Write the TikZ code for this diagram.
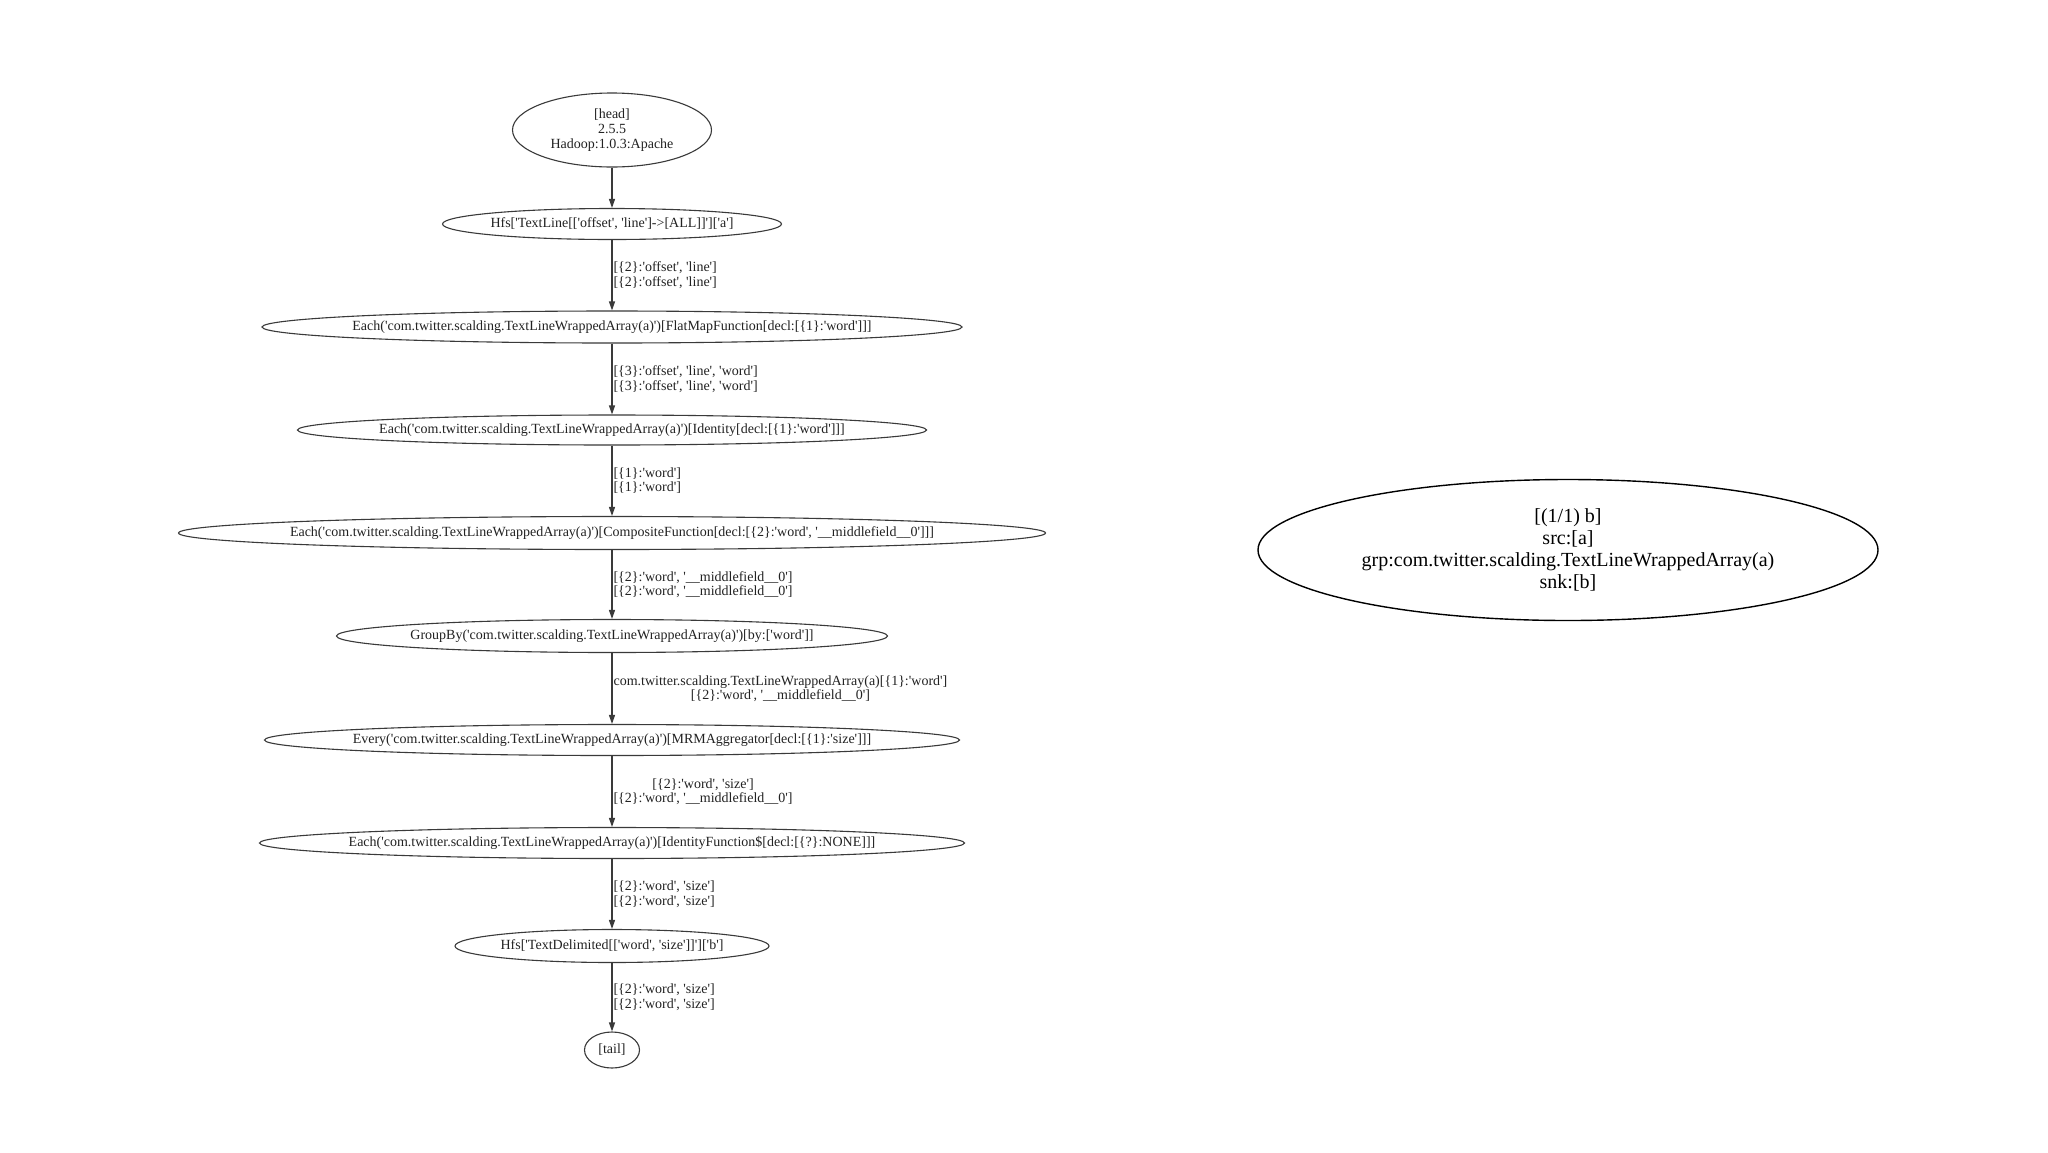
\documentclass[tikz,border=0pt]{standalone}
\usepackage{fontspec}
\setmainfont{Liberation Serif}[Ligatures=TeXOff]
\usetikzlibrary{arrows.meta,positioning,shapes.geometric}
\definecolor{flowline}{HTML}{3A3A3A}
\definecolor{flowtext}{HTML}{222222}

\begin{document}
\begin{tikzpicture}[x=1pt,y=-1pt,
  op/.style={ellipse, draw=flowline, line width=1.1pt, inner xsep=-20pt, inner ysep=0pt,
    font=\fontsize{14}{14.8}\selectfont, text=flowtext, align=center},
  flow/.style={draw=flowline, line width=1.1pt, -{Triangle[length=9pt,width=6pt]}},
  lbl/.style={midway, right, inner sep=1pt, align=center,
    font=\fontsize{14}{14.5}\selectfont, text=flowtext}]
  \useasboundingbox[fill=white] (0,0) rectangle (2048,1152);

  % ======= flow graph (left) =======
  \node[op, minimum width=199, minimum height=74] (head) at (612,130) {[head]\\2.5.5\\Hadoop:1.0.3:Apache};
  \node[op, minimum width=339, minimum height=31] (srcA) at (612,224) {Hfs['TextLine[['offset', 'line']->[ALL]]']['a']};
  \node[op, minimum width=700, minimum height=32] (flatmap) at (612,327) {Each('com.twitter.scalding.TextLineWrappedArray(a)')[FlatMapFunction[decl:[\{1\}:'word']]]};
  \node[op, minimum width=629, minimum height=30] (ident) at (612,430) {Each('com.twitter.scalding.TextLineWrappedArray(a)')[Identity[decl:[\{1\}:'word']]]};
  \node[op, minimum width=867, minimum height=33] (compose) at (612,533) {Each('com.twitter.scalding.TextLineWrappedArray(a)')[CompositeFunction[decl:[\{2\}:'word', '\_\_middlefield\_\_0']]]};
  \node[op, minimum width=551, minimum height=33] (groupby) at (612,636) {GroupBy('com.twitter.scalding.TextLineWrappedArray(a)')[by:['word']]};
  \node[op, minimum width=695, minimum height=31] (every) at (612,740) {Every('com.twitter.scalding.TextLineWrappedArray(a)')[MRMAggregator[decl:[\{1\}:'size']]]};
  \node[op, minimum width=705, minimum height=31] (identfn) at (612,843) {Each('com.twitter.scalding.TextLineWrappedArray(a)')[IdentityFunction\$[decl:[\{?\}:NONE]]]};
  \node[op, minimum width=314, minimum height=33] (sinkB) at (612,946) {Hfs['TextDelimited[['word', 'size']]']['b']};
  \node[op, inner xsep=0pt, minimum width=55, minimum height=36] (tail) at (612,1050) {[tail]};

  % edges with tuple fields
  \draw[flow] (head) -- (srcA);
  \draw[flow] (srcA) -- (flatmap) node[lbl] {[\{2\}:'offset', 'line']\\{}[\{2\}:'offset', 'line']};
  \draw[flow] (flatmap) -- (ident) node[lbl] {[\{3\}:'offset', 'line', 'word']\\{}[\{3\}:'offset', 'line', 'word']};
  \draw[flow] (ident) -- (compose) node[lbl] {[\{1\}:'word']\\{}[\{1\}:'word']};
  \draw[flow] (compose) -- (groupby) node[lbl] {[\{2\}:'word', '\_\_middlefield\_\_0']\\{}[\{2\}:'word', '\_\_middlefield\_\_0']};
  \draw[flow] (groupby) -- (every) node[lbl] {com.twitter.scalding.TextLineWrappedArray(a)[\{1\}:'word']\\{}[\{2\}:'word', '\_\_middlefield\_\_0']};
  \draw[flow] (every) -- (identfn) node[lbl] {[\{2\}:'word', 'size']\\{}[\{2\}:'word', '\_\_middlefield\_\_0']};
  \draw[flow] (identfn) -- (sinkB) node[lbl] {[\{2\}:'word', 'size']\\{}[\{2\}:'word', 'size']};
  \draw[flow] (sinkB) -- (tail) node[lbl] {[\{2\}:'word', 'size']\\{}[\{2\}:'word', 'size']};

  % ======= step (right) =======
  \node[op, draw=black, line width=1.4pt, text=black, minimum width=620, minimum height=141,
    font=\fontsize{20}{22}\selectfont] (stepinfo) at (1568,550)
    {[(1/1) b]\\src:[a]\\grp:com.twitter.scalding.TextLineWrappedArray(a)\\snk:[b]};
\end{tikzpicture}
\end{document}
